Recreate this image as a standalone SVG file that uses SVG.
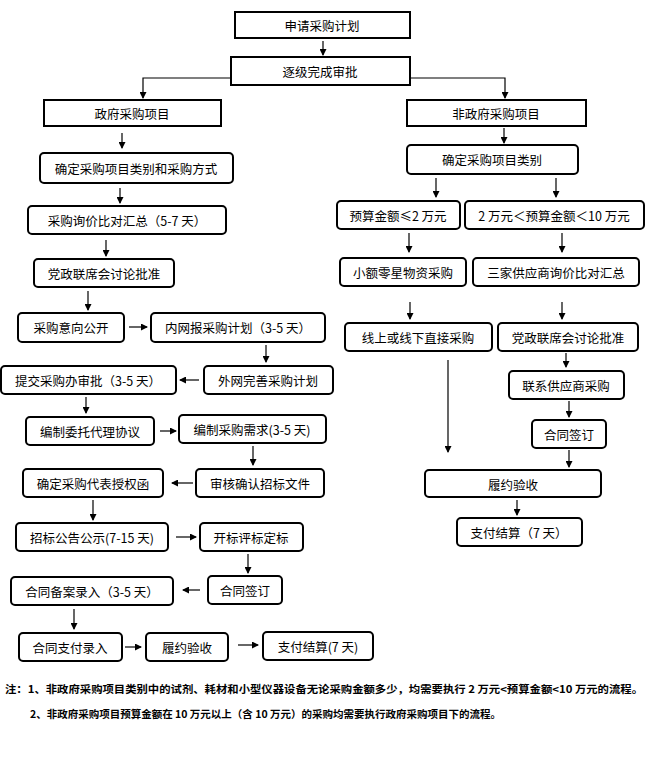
<svg xmlns="http://www.w3.org/2000/svg" width="646" height="773" viewBox="0 0 646 773">
<style>
.b{fill:#fff;stroke:#000;stroke-width:2}
.t{font-family:"Noto Sans CJK SC",sans-serif;font-size:12.5px;text-anchor:middle;dominant-baseline:central;fill:#000}
.n{font-family:"Noto Sans CJK SC",sans-serif;font-size:10.5px;font-weight:bold;fill:#000}
.c line,.c polyline{stroke:#000;stroke-width:1.2;fill:none;marker-end:url(#a)}
</style>
<defs><marker id="a" markerWidth="7" markerHeight="7" refX="6" refY="3.5" orient="auto" markerUnits="userSpaceOnUse"><path d="M0,0L7,3.5L0,7z"/></marker></defs>
<rect width="646" height="773" fill="#fff"/>
<g id="n1"><rect class="b" x="235" y="12" width="175" height="26"/><text class="t" x="322" y="25">申请采购计划</text></g>
<g id="n2"><rect class="b" x="231" y="57" width="179" height="28"/><text class="t" x="320" y="71">逐级完成审批</text></g>
<g id="n3"><rect class="b" x="44" y="100" width="177" height="26"/><text class="t" x="132" y="113">政府采购项目</text></g>
<g id="n4"><rect class="b" x="407" y="100" width="179" height="26"/><text class="t" x="496" y="113">非政府采购项目</text></g>
<g id="n5"><rect class="b" x="40" y="153" width="193" height="30" rx="4"/><text class="t" x="136" y="168">确定采购项目类别和采购方式</text></g>
<g id="n6"><rect class="b" x="407" y="145" width="171" height="29" rx="4"/><text class="t" x="492" y="159">确定采购项目类别</text></g>
<g id="n7"><rect class="b" x="28" y="206" width="198" height="28" rx="4"/><text class="t" x="127" y="220">采购询价比对汇总（5-7 天）</text></g>
<g id="n8"><rect class="b" x="337" y="201" width="123" height="28" rx="4"/><text class="t" x="398" y="215">预算金额≤2 万元</text></g>
<g id="n9"><rect class="b" x="465" y="201" width="179" height="28" rx="4"/><text class="t" x="554" y="215">2 万元＜预算金额＜10 万元</text></g>
<g id="n10"><rect class="b" x="34" y="259" width="140" height="28" rx="4"/><text class="t" x="104" y="273">党政联席会讨论批准</text></g>
<g id="n11"><rect class="b" x="340" y="258" width="126" height="28" rx="4"/><text class="t" x="403" y="272">小额零星物资采购</text></g>
<g id="n12"><rect class="b" x="473" y="258" width="166" height="28" rx="4"/><text class="t" x="556" y="272">三家供应商询价比对汇总</text></g>
<g id="n13"><rect class="b" x="18" y="313" width="106" height="29" rx="4"/><text class="t" x="71" y="327">采购意向公开</text></g>
<g id="n14"><rect class="b" x="151" y="313" width="174" height="29" rx="4"/><text class="t" x="238" y="327">内网报采购计划（3-5 天）</text></g>
<g id="n15"><rect class="b" x="345" y="323" width="147" height="28" rx="4"/><text class="t" x="418" y="337">线上或线下直接采购</text></g>
<g id="n16"><rect class="b" x="498" y="323" width="140" height="28" rx="4"/><text class="t" x="568" y="337">党政联席会讨论批准</text></g>
<g id="n17"><rect class="b" x="1" y="366" width="175" height="28" rx="4"/><text class="t" x="88" y="380">提交采购办审批（3-5 天）</text></g>
<g id="n18"><rect class="b" x="204" y="366" width="129" height="28" rx="4"/><text class="t" x="268" y="380">外网完善采购计划</text></g>
<g id="n19"><rect class="b" x="509" y="371" width="115" height="28" rx="4"/><text class="t" x="566" y="385">联系供应商采购</text></g>
<g id="n20"><rect class="b" x="26" y="417" width="128" height="28" rx="4"/><text class="t" x="90" y="431">编制委托代理协议</text></g>
<g id="n21"><rect class="b" x="179" y="415" width="147" height="28" rx="4"/><text class="t" x="252" y="429">编制采购需求(3-5 天)</text></g>
<g id="n22"><rect class="b" x="532" y="420" width="74" height="28" rx="4"/><text class="t" x="569" y="434">合同签订</text></g>
<g id="n23"><rect class="b" x="23" y="469" width="140" height="28" rx="4"/><text class="t" x="93" y="483">确定采购代表授权函</text></g>
<g id="n24"><rect class="b" x="196" y="469" width="128" height="28" rx="4"/><text class="t" x="260" y="483">审核确认招标文件</text></g>
<g id="n25"><rect class="b" x="425" y="470" width="176" height="27" rx="4"/><text class="t" x="513" y="484">履约验收</text></g>
<g id="n26"><rect class="b" x="16" y="523" width="152" height="28" rx="4"/><text class="t" x="92" y="537">招标公告公示(7-15 天)</text></g>
<g id="n27"><rect class="b" x="200" y="523" width="103" height="28" rx="4"/><text class="t" x="251" y="537">开标评标定标</text></g>
<g id="n28"><rect class="b" x="457" y="518" width="125" height="28" rx="4"/><text class="t" x="519" y="532">支付结算（7 天）</text></g>
<g id="n29"><rect class="b" x="11" y="577" width="162" height="28" rx="4"/><text class="t" x="92" y="591">合同备案录入（3-5 天）</text></g>
<g id="n30"><rect class="b" x="208" y="576" width="74" height="28" rx="4"/><text class="t" x="245" y="590">合同签订</text></g>
<g id="n31"><rect class="b" x="19" y="633" width="103" height="28" rx="4"/><text class="t" x="70" y="647">合同支付录入</text></g>
<g id="n32"><rect class="b" x="146" y="633" width="82" height="28" rx="4"/><text class="t" x="187" y="647">履约验收</text></g>
<g id="n33"><rect class="b" x="263" y="632" width="110" height="28" rx="4"/><text class="t" x="318" y="646">支付结算(7 天)</text></g>
<g class="c">
<line x1="323" y1="41" x2="323" y2="55"/>
<polyline points="231,78 143,78 143,98"/>
<polyline points="410,78 505,78 505,98"/>
<line x1="122" y1="133" x2="122" y2="148"/>
<line x1="504" y1="128" x2="504" y2="143"/>
<line x1="120" y1="188" x2="120" y2="203"/>
<line x1="436" y1="178" x2="436" y2="197"/>
<line x1="556" y1="178" x2="556" y2="197"/>
<line x1="106" y1="240" x2="106" y2="256"/>
<line x1="409" y1="233" x2="409" y2="252"/>
<line x1="562" y1="233" x2="562" y2="252"/>
<line x1="88" y1="291" x2="88" y2="310"/>
<line x1="129" y1="327" x2="147" y2="327"/>
<line x1="410" y1="302" x2="410" y2="319"/>
<line x1="562" y1="302" x2="562" y2="319"/>
<line x1="266" y1="345" x2="266" y2="362"/>
<line x1="199" y1="380" x2="180" y2="380"/>
<line x1="566" y1="353" x2="566" y2="367"/>
<line x1="86" y1="397" x2="86" y2="413"/>
<line x1="160" y1="431" x2="176" y2="431"/>
<line x1="253" y1="446" x2="253" y2="465"/>
<line x1="569" y1="401" x2="569" y2="417"/>
<line x1="448" y1="360" x2="448" y2="452"/>
<line x1="569" y1="450" x2="569" y2="467"/>
<line x1="193" y1="483" x2="172" y2="483"/>
<line x1="93" y1="500" x2="93" y2="520"/>
<line x1="517" y1="500" x2="517" y2="515"/>
<line x1="176" y1="537" x2="196" y2="537"/>
<line x1="248" y1="554" x2="248" y2="573"/>
<line x1="200" y1="590" x2="183" y2="590"/>
<line x1="74" y1="609" x2="74" y2="629"/>
<line x1="125" y1="647" x2="141" y2="647"/>
<line x1="238" y1="645" x2="258" y2="645"/>
</g>
<text class="n" x="5" y="693" textLength="638" lengthAdjust="spacingAndGlyphs">注：1、非政府采购项目类别中的试剂、耗材和小型仪器设备无论采购金额多少，均需要执行 2 万元&lt;预算金额&lt;10 万元的流程。</text>
<text class="n" x="30" y="718">2、非政府采购项目预算金额在 10 万元以上（含 10 万元）的采购均需要执行政府采购项目下的流程。</text>
</svg>
